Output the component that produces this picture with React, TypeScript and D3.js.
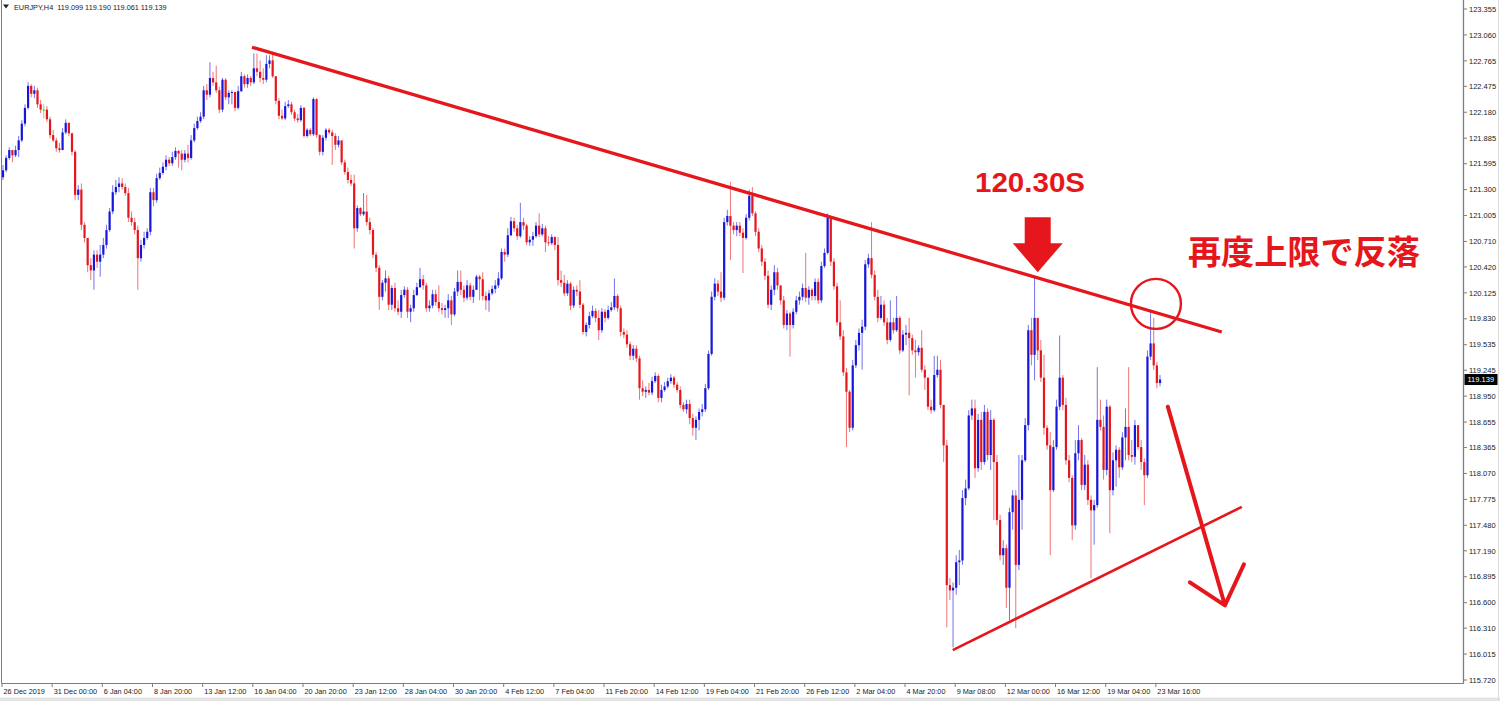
import { useEffect, useRef } from "react";
import * as d3 from "d3";

// EURJPY H4 candles (open = previous close)
const firstOpen = 121.44;

const closes = [
  // 26 Dec - 16 Jan
  121.52, 121.66, 121.75, 121.69, 121.75, 121.86, 122.05, 122.23, 122.48, 122.39,
  122.43, 122.27, 122.21, 122.21, 122.10, 121.92, 121.86, 121.77, 121.75, 121.95,
  122.06, 121.94, 121.73, 121.24, 121.30, 120.90, 120.75, 120.44, 120.38, 120.56,
  120.48, 120.56, 120.67, 120.84, 121.05, 121.27, 121.33, 121.37, 121.33, 121.26,
  120.98, 120.93, 120.84, 120.52, 120.67, 120.75, 120.82, 121.27, 121.18, 121.43,
  121.49, 121.56, 121.64, 121.60, 121.67, 121.74, 121.71, 121.64, 121.71, 121.66,
  121.86, 122.00, 122.08, 122.13, 122.43, 122.38, 122.57, 122.52, 122.43, 122.21,
  122.55, 122.35, 122.40, 122.41, 122.23, 122.42, 122.59, 122.50, 122.57, 122.52,
  122.68, 122.64, 122.57, 122.55, 122.73, 122.77, 122.59, 122.31, 122.14, 122.11,
  122.25, 122.27, 122.18, 122.11, 122.09, 122.23, 121.91, 121.98, 121.93, 122.33,
  121.92, 121.73, 121.89, 121.98, 121.95, 121.91, 121.81, 121.86, 121.61, 121.50,
  121.41, 121.37, 120.86, 121.09, 121.02, 121.05, 120.93, 120.84, 120.56, 120.41,
  // 23 Jan - 20 Feb
  120.08, 120.24, 120.29, 119.99, 120.18, 119.95, 119.91, 120.10, 120.16, 119.91,
  119.95, 120.10, 120.19, 120.28, 120.21, 119.95, 119.98, 120.11, 120.02, 119.95,
  119.93, 119.95, 120.04, 119.88, 120.14, 120.25, 120.16, 120.07, 120.21, 120.08,
  120.16, 120.31, 120.28, 120.09, 120.04, 120.12, 120.17, 120.21, 120.29, 120.59,
  120.56, 120.78, 120.94, 120.86, 120.77, 120.93, 120.89, 120.70, 120.73, 120.77,
  120.89, 120.79, 120.86, 120.70, 120.69, 120.76, 120.67, 120.27, 120.24, 120.12,
  120.23, 119.98, 120.16, 120.14, 119.99, 119.68, 119.76, 119.86, 119.92, 119.84,
  119.70, 119.91, 119.84, 119.93, 119.96, 120.09, 119.95, 119.68, 119.65, 119.54,
  119.41, 119.49, 119.38, 119.04, 119.00, 119.02, 118.99, 119.12, 119.18, 118.93,
  119.02, 119.06, 119.12, 119.16, 119.08, 119.02, 118.85, 118.80, 118.86, 118.70,
  118.59, 118.68, 118.77, 118.80, 119.04, 119.43, 120.08, 120.23, 120.14, 120.07,
  120.93, 121.00, 120.89, 120.84, 120.89,
  // 20 Feb - 6 Mar
  120.81, 120.75, 120.98, 121.23, 121.03, 120.82, 120.63, 120.48, 120.32, 119.99,
  120.16, 120.36, 120.21, 120.04, 119.76, 119.89, 119.76, 119.91, 120.04, 120.08,
  120.18, 120.07, 120.16, 120.09, 120.25, 120.04, 120.43, 120.58, 120.98, 120.48,
  120.20, 119.79, 119.63, 119.22, 119.00, 118.59, 119.30, 119.53, 119.67, 119.74,
  120.45, 120.52, 120.33, 120.08, 119.84, 119.99, 119.79, 119.59, 119.79, 119.70,
  119.84, 119.47, 119.65, 119.67, 119.61, 119.47, 119.45, 119.50, 119.25, 119.16,
  118.83, 118.79, 119.19, 119.25, 118.85,
  // 9 Mar - 24 Mar
  118.39, 116.80, 116.74, 116.77, 117.06, 117.08, 117.79, 117.90, 118.73, 118.81,
  118.13, 118.68, 118.20, 118.77, 118.28, 118.68, 118.20, 117.54, 117.14, 117.22,
  116.77, 117.63, 117.82, 117.03, 117.77, 118.22, 118.62, 119.70, 119.42, 119.84,
  119.47, 119.16, 118.59, 118.39, 117.88, 118.37, 118.83, 119.16, 118.85, 118.22,
  118.02, 117.48, 118.30, 118.45, 117.94, 118.17, 117.77, 117.65, 117.71, 118.68,
  118.60, 118.11, 118.83, 117.88, 118.22, 118.34, 118.14, 118.48, 118.60, 118.28,
  118.26, 118.62, 118.37, 118.20, 118.05, 119.40, 119.55, 119.30, 119.099, 119.139,
];

const highs = [
  121.58, 121.69, 121.78, 121.75, 121.80, 121.91, 122.09, 122.27, 122.52, 122.50,
  122.48, 122.46, 122.32, 122.27, 122.25, 122.13, 121.98, 121.89, 121.83, 122.00,
  122.10, 122.03, 121.95, 121.75, 121.35, 121.37, 120.93, 120.75, 120.52, 120.61,
  120.61, 120.67, 120.75, 120.90, 121.09, 121.35, 121.41, 121.44, 121.43, 121.37,
  121.32, 121.05, 120.98, 120.89, 120.73, 120.82, 120.86, 121.32, 121.32, 121.48,
  121.55, 121.61, 121.69, 121.67, 121.73, 121.78, 121.75, 121.75, 121.75, 121.81,
  121.92, 122.05, 122.13, 122.18, 122.48, 122.50, 122.75, 122.64, 122.71, 122.47,
  122.57, 122.57, 122.43, 122.43, 122.41, 122.48, 122.64, 122.61, 122.61, 122.59,
  122.85, 122.85, 122.77, 122.68, 122.83, 122.83, 122.87, 122.59, 122.34, 122.21,
  122.30, 122.32, 122.30, 122.21, 122.16, 122.26, 122.24, 122.00, 122.00, 122.35,
  122.34, 121.93, 121.92, 122.00, 122.00, 121.98, 121.94, 121.91, 121.86, 121.64,
  121.55, 121.47, 121.47, 121.12, 121.10, 121.26, 121.24, 120.98, 120.86, 120.59,
  120.44, 120.27, 120.38, 120.32, 120.21, 120.24, 120.04, 120.16, 120.20, 120.19,
  119.99, 120.16, 120.24, 120.41, 120.33, 120.24, 120.04, 120.16, 120.16, 120.21,
  120.01, 119.99, 120.11, 120.09, 120.18, 120.38, 120.38, 120.21, 120.27, 120.24,
  120.21, 120.33, 120.33, 120.36, 120.14, 120.16, 120.21, 120.27, 120.36, 120.63,
  120.63, 120.86, 120.99, 120.98, 120.90, 121.15, 120.98, 120.91, 120.77, 120.82,
  120.93, 121.03, 120.91, 120.89, 120.77, 120.79, 120.77, 120.76, 120.38, 120.33,
  120.27, 120.25, 120.20, 120.21, 120.27, 120.01, 119.79, 119.91, 119.98, 119.95,
  119.93, 119.95, 119.94, 119.98, 120.02, 120.29, 120.11, 119.98, 119.72, 119.70,
  119.57, 119.53, 119.53, 119.41, 119.13, 119.06, 119.10, 119.17, 119.22, 119.20,
  119.08, 119.11, 119.16, 119.20, 119.18, 119.11, 119.06, 118.88, 118.91, 118.91,
  118.75, 118.72, 118.81, 118.86, 119.09, 119.47, 120.14, 120.29, 120.27, 120.36,
  120.98, 121.07, 121.39, 120.93, 120.93,
  120.93, 120.86, 121.02, 121.30, 121.33, 121.05, 120.86, 120.67, 120.52, 120.38,
  120.21, 120.44, 120.41, 120.21, 120.09, 119.93, 119.91, 119.95, 120.09, 120.14,
  120.23, 120.58, 120.20, 120.18, 120.29, 120.29, 120.48, 120.63, 121.03, 121.00,
  120.52, 120.24, 120.04, 119.70, 119.27, 119.02, 119.36, 119.59, 119.72, 119.82,
  120.50, 120.57, 120.93, 120.38, 120.16, 120.09, 120.04, 119.84, 120.04, 119.84,
  120.09, 119.86, 119.70, 119.76, 119.84, 119.65, 119.59, 119.53, 119.70, 119.30,
  119.16, 118.91, 119.41, 119.41, 119.36,
  118.79, 118.45, 116.88, 116.83, 117.14, 117.20, 117.88, 118.00, 118.79, 118.91,
  118.91, 118.75, 118.77, 118.85, 118.81, 118.79, 118.70, 118.28, 117.60, 117.31,
  117.26, 117.68, 117.88, 117.88, 118.28, 118.28, 118.70, 119.76, 119.84, 120.31,
  119.84, 119.59, 119.42, 118.62, 118.54, 118.45, 118.91, 119.64, 119.19, 118.93,
  118.28, 118.05, 118.45, 118.62, 118.47, 118.28, 118.22, 117.82, 117.77, 119.28,
  118.91, 118.73, 118.91, 118.85, 118.31, 118.39, 118.37, 118.54, 118.81, 119.28,
  118.45, 118.68, 118.59, 118.45, 118.24, 119.47, 119.93, 119.84, 119.34, 119.19,
];

const lows = [
  121.41, 121.50, 121.64, 121.61, 121.67, 121.67, 121.84, 122.02, 122.21, 122.35,
  122.34, 122.23, 122.17, 122.11, 122.07, 121.88, 121.84, 121.73, 121.72, 121.75,
  121.93, 121.91, 121.69, 121.18, 121.18, 120.84, 120.70, 120.36, 120.27, 120.16,
  120.41, 120.31, 120.52, 120.63, 120.82, 121.02, 121.24, 121.27, 121.30, 121.23,
  120.93, 120.89, 120.79, 120.16, 120.48, 120.63, 120.73, 120.78, 121.11, 121.15,
  121.41, 121.47, 121.52, 121.57, 121.57, 121.64, 121.55, 121.52, 121.61, 121.61,
  121.64, 121.84, 121.98, 122.06, 122.10, 122.32, 122.35, 122.48, 122.40, 122.17,
  122.18, 122.32, 122.27, 122.27, 122.19, 122.21, 122.41, 122.46, 122.46, 122.48,
  122.50, 122.59, 122.52, 122.50, 122.52, 122.68, 122.57, 122.27, 122.10, 122.09,
  122.09, 122.23, 122.15, 122.08, 122.06, 122.07, 121.89, 121.89, 121.91, 121.91,
  121.89, 121.69, 121.69, 121.86, 121.93, 121.58, 121.75, 121.78, 121.58, 121.47,
  121.37, 121.34, 120.63, 120.82, 121.00, 121.00, 120.89, 120.79, 120.52, 120.36,
  119.93, 120.04, 120.14, 119.93, 119.93, 119.91, 119.87, 119.84, 120.07, 119.84,
  119.79, 119.91, 120.09, 120.18, 120.16, 119.91, 119.91, 119.95, 119.98, 119.91,
  119.88, 119.84, 119.84, 119.76, 119.86, 120.09, 120.10, 120.02, 120.04, 120.04,
  120.01, 120.16, 120.04, 120.04, 119.93, 119.91, 120.10, 120.12, 120.18, 120.27,
  120.48, 120.53, 120.77, 120.82, 120.73, 120.75, 120.84, 120.67, 120.66, 120.66,
  120.75, 120.76, 120.77, 120.59, 120.66, 120.67, 120.61, 120.21, 120.19, 120.09,
  120.09, 119.93, 119.95, 120.09, 119.95, 119.65, 119.63, 119.72, 119.84, 119.79,
  119.59, 119.67, 119.79, 119.82, 119.91, 119.93, 119.91, 119.63, 119.61, 119.50,
  119.36, 119.36, 119.34, 118.91, 118.95, 118.93, 118.96, 118.96, 119.10, 118.88,
  118.88, 119.00, 119.04, 119.09, 119.04, 118.99, 118.81, 118.77, 118.75, 118.63,
  118.50, 118.45, 118.56, 118.72, 118.77, 119.02, 119.41, 120.04, 120.09, 120.02,
  120.04, 120.89, 120.50, 120.79, 120.77,
  120.77, 120.35, 120.73, 120.95, 121.00, 120.77, 120.59, 120.43, 120.27, 119.95,
  119.93, 120.10, 120.16, 119.99, 119.72, 119.70, 119.40, 119.72, 119.88, 119.99,
  120.04, 120.02, 119.99, 120.04, 120.04, 120.00, 120.01, 120.41, 120.56, 120.43,
  120.16, 119.75, 119.59, 119.18, 118.37, 118.54, 118.56, 119.27, 119.47, 119.25,
  119.70, 120.41, 120.29, 120.04, 119.79, 119.82, 119.75, 119.54, 119.57, 119.66,
  119.68, 119.43, 119.45, 119.53, 118.96, 119.42, 119.16, 119.41, 119.22, 119.02,
  118.79, 118.75, 118.77, 119.16, 118.81,
  118.20, 116.32, 116.63, 116.09, 116.69, 116.80, 117.03, 117.71, 117.88, 118.68,
  118.02, 118.09, 118.11, 118.17, 118.22, 118.11, 117.54, 117.48, 117.08, 117.03,
  116.54, 116.40, 117.43, 116.31, 116.97, 117.43, 118.20, 118.56, 119.30, 119.13,
  119.36, 119.11, 118.51, 118.34, 117.14, 117.86, 118.34, 118.79, 118.79, 118.17,
  117.97, 117.31, 117.43, 118.22, 117.88, 117.88, 117.71, 116.88, 117.26, 117.68,
  118.56, 118.00, 118.05, 117.39, 117.82, 117.92, 118.02, 118.11, 118.22, 118.22,
  118.20, 118.17, 118.34, 118.11, 117.71, 118.02, 119.36, 119.25, 119.04, 119.061,
];

const priceTicks = [
  123.355, 123.06, 122.765, 122.475, 122.18, 121.885, 121.595, 121.3, 121.005,
  120.71, 120.42, 120.125, 119.83, 119.535, 119.245, 118.95, 118.655, 118.365,
  118.07, 117.775, 117.48, 117.19, 116.895, 116.6, 116.31, 116.015, 115.72,
];

const dateLabels = [
  "26 Dec 2019", "31 Dec 00:00", "6 Jan 04:00", "8 Jan 20:00", "13 Jan 12:00",
  "16 Jan 04:00", "20 Jan 20:00", "23 Jan 12:00", "28 Jan 04:00", "30 Jan 20:00",
  "4 Feb 12:00", "7 Feb 04:00", "11 Feb 20:00", "14 Feb 12:00", "19 Feb 04:00",
  "21 Feb 20:00", "26 Feb 12:00", "2 Mar 04:00", "4 Mar 20:00", "9 Mar 08:00",
  "12 Mar 00:00", "16 Mar 12:00", "19 Mar 04:00", "23 Mar 16:00",
];
const barsPerLabel = 16;

const header = "EURJPY,H4  119.099 119.190 119.061 119.139";
const lastPrice = 119.139;

// hand drawn annotations, given as [bar index, price]
const resistance: [number, number][] = [[79.4, 122.92], [388.7, 119.68]];
const support: [number, number][] = [[302.9, 116.06], [395.1, 117.69]];
const circleAt: [number, number] = [367.7, 120.0];
const blockArrowTip: [number, number] = [330, 120.36];
const downArrow: [number, number][] = [[371.5, 118.83], [389.7, 116.57]];
const levelLabel = { text: "120.30S", at: [310, 121.27] as [number, number] };
const noteLabel = { text: "再度上限で反落", at: [377.9, 120.45] as [number, number] };

const RED = "#e5171d";
const BLUE = "#1616dc";
const AXIS_FONT = "'Liberation Sans', Arial, sans-serif";

export default function App() {
  const ref = useRef<SVGSVGElement>(null);

  useEffect(() => {
    if (!ref.current) return;
    const svg = d3.select(ref.current);
    svg.selectAll("*").remove();

    const right = 1463.5;
    const bottom = 683.5;

    const x = d3.scaleLinear().domain([0, closes.length - 1]).range([3, 1160]);
    const y = d3.scaleLinear().domain([115.72, 123.355]).range([680, 9]);

    svg.append("rect").attr("width", 1500).attr("height", 701).attr("fill", "#fff");
    svg.append("rect").attr("x", 0).attr("y", 697.5).attr("width", 1500).attr("height", 4).attr("fill", "#e4e4e4");

    const clip = svg.append("defs").append("clipPath").attr("id", "plot");
    clip.append("rect").attr("x", 1.5).attr("y", 0).attr("width", right - 1.5).attr("height", bottom);

    const bars = closes.map((c, i) => {
      const o = i === 0 ? firstOpen : closes[i - 1];
      return { i, o, c, h: Math.max(highs[i], o, c), l: Math.min(lows[i], o, c) };
    });
    const colorOf = (b: { o: number; c: number }) => (b.c > b.o ? BLUE : b.c < b.o ? RED : "#35c035");

    const plot = svg.append("g").attr("clip-path", "url(#plot)");
    const candles = plot.selectAll("g.bar").data(bars).join("g").attr("class", "bar");
    candles
      .append("line")
      .attr("x1", (d) => x(d.i))
      .attr("x2", (d) => x(d.i))
      .attr("y1", (d) => y(d.h))
      .attr("y2", (d) => y(d.l))
      .attr("stroke", colorOf)
      .attr("stroke-opacity", 0.6)
      .attr("stroke-width", 1);
    candles
      .append("rect")
      .attr("x", (d) => x(d.i) - 1.1)
      .attr("width", 2.2)
      .attr("y", (d) => y(Math.max(d.o, d.c)))
      .attr("height", (d) => Math.max(1, Math.abs(y(d.o) - y(d.c))))
      .attr("fill", colorOf);

    // frame
    const frame = "#7d7d7d";
    svg.append("line").attr("x1", 1.5).attr("x2", 1.5).attr("y1", 0).attr("y2", bottom).attr("stroke", frame);
    svg.append("line").attr("x1", 1.5).attr("x2", right).attr("y1", bottom).attr("y2", bottom).attr("stroke", frame);
    svg.append("line").attr("x1", right).attr("x2", right).attr("y1", 0).attr("y2", bottom).attr("stroke", frame).attr("stroke-width", 1.3);
    svg.append("line").attr("x1", 1498.5).attr("x2", 1498.5).attr("y1", 0).attr("y2", 701).attr("stroke", "#dcdcdc");

    // price axis
    const yAxis = svg.append("g").attr("font-family", AXIS_FONT).attr("font-size", 7.5).attr("fill", "#222");
    priceTicks.forEach((p) => {
      yAxis.append("line").attr("x1", right).attr("x2", right + 3.5).attr("y1", y(p)).attr("y2", y(p)).attr("stroke", frame);
      yAxis.append("text").attr("x", right + 5.5).attr("y", y(p) + 2.7).text(p.toFixed(3));
    });
    yAxis.append("rect").attr("x", right + 1).attr("y", y(lastPrice) - 5.5).attr("width", 33).attr("height", 11).attr("fill", "#000");
    yAxis.append("text").attr("x", right + 4).attr("y", y(lastPrice) + 2.7).attr("fill", "#fff").text(lastPrice.toFixed(3));

    // time axis
    const xAxis = svg.append("g").attr("font-family", AXIS_FONT).attr("font-size", 7.3).attr("fill", "#222");
    dateLabels.forEach((t, k) => {
      const px = x(k * barsPerLabel) - 1;
      xAxis.append("line").attr("x1", px).attr("x2", px).attr("y1", bottom).attr("y2", bottom + 3.5).attr("stroke", frame);
      xAxis.append("text").attr("x", px + 1.5).attr("y", 694).text(t);
    });

    // header
    svg.append("path").attr("d", "M3,4.5 L9,4.5 L6,8.5 Z").attr("fill", "#222");
    svg.append("text").attr("x", 14).attr("y", 9.5).attr("font-family", AXIS_FONT).attr("font-size", 7.3).attr("fill", "#222").attr("xml:space", "preserve").text(header);

    // annotations
    const pt = (d: [number, number]) => [x(d[0]), y(d[1])] as [number, number];
    const line = d3.line<[number, number]>().x((d) => pt(d)[0]).y((d) => pt(d)[1]);
    const ann = svg.append("g");
    ann.append("path").attr("d", line(resistance)).attr("stroke", RED).attr("stroke-width", 3.3).attr("fill", "none");
    ann.append("path").attr("d", line(support)).attr("stroke", RED).attr("stroke-width", 2.6).attr("fill", "none");

    const [cx, cy] = pt(circleAt);
    ann.append("circle").attr("cx", cx).attr("cy", cy).attr("r", 25).attr("stroke", RED).attr("stroke-width", 2.4).attr("fill", "none");

    const [tx, ty] = pt(blockArrowTip);
    const block: [number, number][] = [
      [tx - 13, ty - 55], [tx + 13, ty - 55], [tx + 13, ty - 29], [tx + 25, ty - 29],
      [tx, ty], [tx - 25, ty - 29], [tx - 13, ty - 29],
    ];
    ann.append("path").attr("d", "M" + block.map((p) => p.join(",")).join("L") + "Z").attr("fill", RED);

    const [a0, a1] = downArrow.map(pt);
    ann.append("path")
      .attr("d", `M${a0[0]},${a0[1]}L${a1[0]},${a1[1]}M${a1[0] - 35},${a1[1] - 23}L${a1[0]},${a1[1]}L${a1[0] + 19},${a1[1] - 41}`)
      .attr("stroke", RED).attr("stroke-width", 4).attr("fill", "none").attr("stroke-linecap", "round").attr("stroke-linejoin", "round");

    const [lx, ly] = pt(levelLabel.at);
    ann.append("text").attr("x", lx).attr("y", ly).attr("font-family", AXIS_FONT).attr("font-weight", 700).attr("font-size", 28)
      .attr("fill", RED).attr("textLength", 110).attr("lengthAdjust", "spacingAndGlyphs").text(levelLabel.text);

    const [nx, ny] = pt(noteLabel.at);
    ann.append("text").attr("x", nx).attr("y", ny).attr("font-family", "'Noto Sans CJK JP', sans-serif").attr("font-weight", 700)
      .attr("font-size", 33).attr("fill", RED).attr("textLength", 232).attr("lengthAdjust", "spacingAndGlyphs").text(noteLabel.text);
  }, []);

  return (
    <div style={{ position: "absolute", left: 0, top: 0 }}>
      <svg ref={ref} width={1500} height={701} viewBox="0 0 1500 701" style={{ display: "block" }} />
    </div>
  );
}
